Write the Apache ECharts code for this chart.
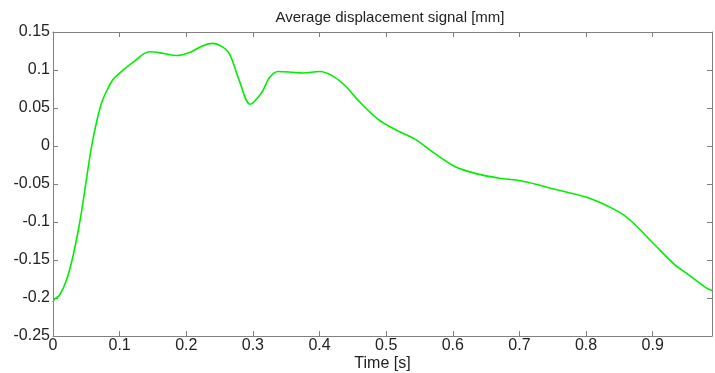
<!DOCTYPE html>
<html><head><meta charset="utf-8">
<script src="https://cdn.jsdelivr.net/npm/echarts@6/dist/echarts.min.js"></script>
<style>html,body{margin:0;padding:0;background:#fff}#c{width:715px;height:373px}</style>
</head><body><div id="c"></div>
<script>
const titleText = "Average displacement signal [mm]";
const xName = "Time [s]";
const times = [0,0.003,0.01,0.02,0.03,0.04,0.05,0.057,0.064,0.073,0.082,0.09,0.1,0.12,0.145,0.165,0.185,0.205,0.225,0.24,0.253,0.265,0.28,0.296,0.313,0.325,0.338,0.36,0.375,0.40,0.42,0.44,0.458,0.488,0.515,0.543,0.57,0.603,0.638,0.668,0.703,0.728,0.753,0.803,0.848,0.868,0.903,0.933,0.953,0.97,0.981,0.989];
const displacement = [-0.205,-0.201,-0.196,-0.177,-0.145,-0.101,-0.045,-0.005,0.026,0.057,0.075,0.0875,0.096,0.11,0.124,0.122,0.119,0.123,0.132,0.135,0.131,0.121,0.085,0.055,0.07,0.09,0.098,0.097,0.096,0.098,0.092,0.078,0.06,0.035,0.021,0.009,-0.008,-0.027,-0.037,-0.042,-0.046,-0.051,-0.057,-0.068,-0.086,-0.099,-0.13,-0.156,-0.169,-0.18,-0.187,-0.19];
const xTicks = {min:0, max:0.989, interval:0.1};
const yTicks = {min:-0.25, max:0.15, interval:0.05};

const fmt = v => String(+v.toFixed(2));
const axisCol = '#808080';
const txt = '#222';
const chart = echarts.init(document.getElementById('c'));
chart.setOption({
  animation:false,
  title:{text:titleText,left:385,top:5,textAlign:'center',textStyle:{fontFamily:'Liberation Sans',fontSize:15,fontWeight:'normal',color:txt}},
  grid:{left:53,right:3,top:32,bottom:37,outerBoundsMode:'none',containLabel:false},
  xAxis:[{type:'value',min:xTicks.min,max:xTicks.max,interval:xTicks.interval,
    name:xName,nameLocation:'middle',nameGap:28,nameMoveOverlap:false,nameTextStyle:{fontFamily:'Liberation Sans',fontSize:16,color:txt,verticalAlign:'middle'},
    axisLine:{onZero:false,lineStyle:{color:axisCol}},axisTick:{inside:true,length:5,lineStyle:{color:axisCol}},
    axisLabel:{fontFamily:'Liberation Sans',fontSize:16,color:txt,margin:2,formatter:fmt,showMaxLabel:false},splitLine:{show:false}},
    {type:'value',position:'top',min:xTicks.min,max:xTicks.max,interval:xTicks.interval,
    axisLine:{show:true,onZero:false,lineStyle:{color:axisCol}},axisTick:{inside:true,length:5,lineStyle:{color:axisCol}},axisLabel:{show:false},splitLine:{show:false}}],
  yAxis:[{type:'value',min:yTicks.min,max:yTicks.max,interval:yTicks.interval,
    axisLine:{show:true,onZero:false,lineStyle:{color:axisCol}},axisTick:{show:true,inside:true,length:5,lineStyle:{color:axisCol}},
    axisLabel:{fontFamily:'Liberation Sans',fontSize:16,color:txt,margin:3,formatter:fmt},splitLine:{show:false}},
    {type:'value',position:'right',min:yTicks.min,max:yTicks.max,interval:yTicks.interval,
    axisLine:{show:true,onZero:false,lineStyle:{color:axisCol}},axisTick:{show:true,inside:true,length:5,lineStyle:{color:axisCol}},axisLabel:{show:false},splitLine:{show:false}}],
  series:[{type:'line',data:times.map((t,i)=>[t,displacement[i]]),smooth:0.35,showSymbol:false,
    lineStyle:{color:'#00ee00',width:1.6}}]
});
</script></body></html>
